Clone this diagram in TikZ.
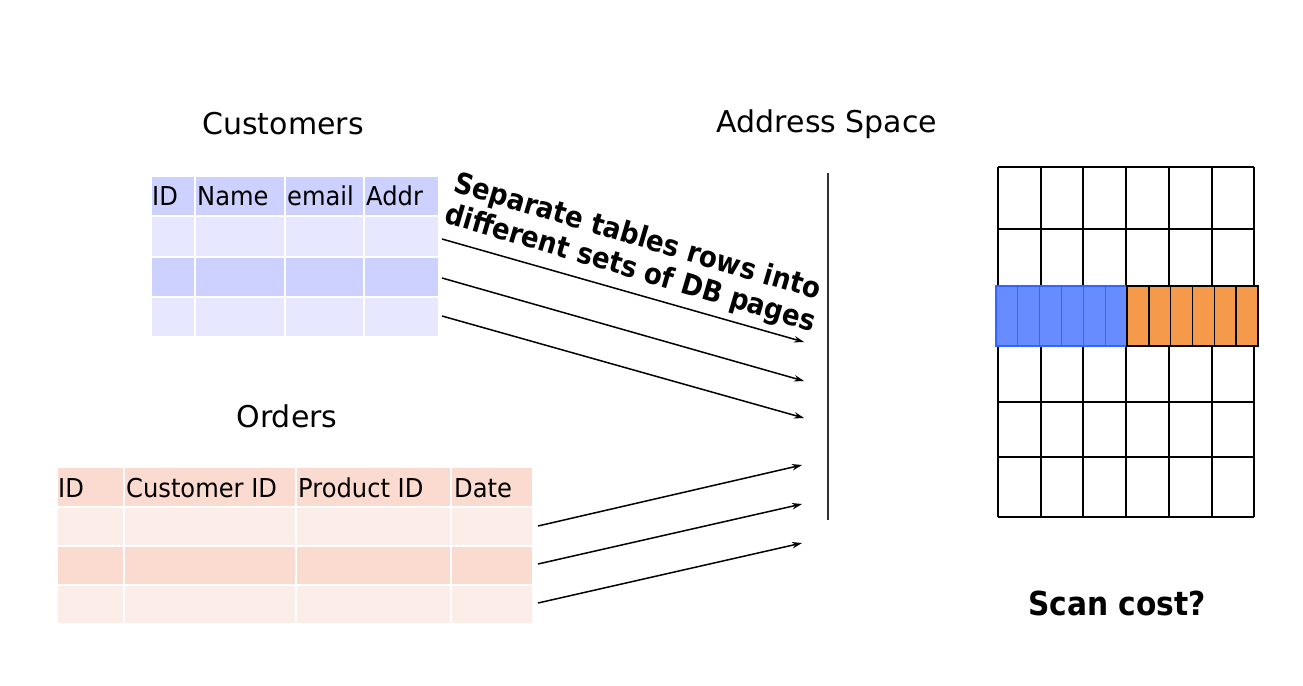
\documentclass[tikz,border=0pt]{standalone}
\usepackage{fontspec}
\setmainfont{DejaVu Sans}
\newfontfamily\hdrfont[FakeStretch=0.93]{DejaVu Sans}
\newfontfamily\nbold[FakeStretch=0.9]{DejaVu Sans}
\usetikzlibrary{arrows.meta}
\definecolor{custA}{RGB}{204,209,255}
\definecolor{custB}{RGB}{231,232,255}
\definecolor{ordA}{RGB}{251,219,208}
\definecolor{ordB}{RGB}{252,237,232}
\definecolor{pgblue}{RGB}{102,140,255}
\definecolor{pgblueline}{RGB}{50,100,255}
\definecolor{pgorange}{RGB}{245,154,74}
\definecolor{vline}{RGB}{50,50,50}
\begin{document}
\begin{tikzpicture}[x=1pt,y=-1pt,
  cell/.style={draw=white,line width=1.5},
  hdr/.style={anchor=west,inner sep=0pt,font=\hdrfont\fontsize{26}{30}\selectfont},
  title/.style={inner sep=0pt,font=\fontsize{30}{36}\selectfont},
  maparrow/.style={line width=1.5,-{Stealth[length=10pt,width=6.5pt]}},
  gridline/.style={line width=1.5},
  bluepg/.style={fill=pgblue,draw=pgblueline,line width=1.3},
  orangepg/.style={fill=pgorange,draw=black,line width=1.5}]
\useasboundingbox (0,0) rectangle (1303,685);

% Customers table
\foreach \ya/\yb/\c in {176/216/custA,216/257/custB,257/297/custA,297/337/custB}
  \foreach \xa/\xb in {151/195,195/285,285/364,364/439}
    \path[cell,fill=\c] (\xa,\ya) rectangle (\xb,\yb);
\node[title] (custtitle) at (283,124) {Customers};
\node[hdr] (cid) at (152,196) {ID};
\node[hdr] (cname) at (197,196) {Name};
\node[hdr] (cemail) at (287,196) {email};
\node[hdr] (caddr) at (366,196) {Addr};

% Orders table
\foreach \ya/\yb/\c in {467/507/ordA,507/546/ordB,546/585/ordA,585/624/ordB}
  \foreach \xa/\xb in {57/124,124/296,296/451,451/533}
    \path[cell,fill=\c] (\xa,\ya) rectangle (\xb,\yb);
\node[title] (ordtitle) at (287,416) {Orders};
\node[hdr] (oid) at (58,488) {ID};
\node[hdr] (ocust) at (126,488) {Customer ID};
\node[hdr] (oprod) at (298,488) {Product ID};
\node[hdr] (odate) at (454,488) {Date};

% Address space
\node[title] (astitle) at (827,124) {Address Space};
\coordinate (astop) at (828,173);
\coordinate (asbot) at (828,520);
\draw[vline,line width=2.5] (astop) -- (asbot);

% arrows
\coordinate (c1s) at (442,239); \coordinate (c1e) at (804,342);
\coordinate (c2s) at (442,278); \coordinate (c2e) at (804,381);
\coordinate (c3s) at (442,316); \coordinate (c3e) at (804,418);
\coordinate (o1s) at (538,526); \coordinate (o1e) at (802,465);
\coordinate (o2s) at (538,564); \coordinate (o2e) at (802,504);
\coordinate (o3s) at (538,603); \coordinate (o3e) at (802,543);
\foreach \s/\e in {c1s/c1e,c2s/c2e,c3s/c3e,o1s/o1e,o2s/o2e,o3s/o3e}
  \draw[maparrow] (\s) -- (\e);

\node[rotate=-16.5,align=left,inner sep=0pt,font=\nbold\bfseries\fontsize{29}{32}\selectfont] (note) at (635,254)
  {Separate tables rows into\\different sets of DB pages};

% page grid
\foreach \x in {998,1041,1083,1126,1169,1212,1254}
  \draw[gridline] (\x,167) -- (\x,517);
\foreach \y in {167,229,286,346,402,457,517}
  \draw[gridline] (998,\y) -- (1254,\y);
\foreach \i in {0,...,5}
  \path[bluepg] ({996+\i*21.83},286) rectangle ({996+(\i+1)*21.83},346);
\foreach \i in {0,...,5}
  \path[orangepg] ({1127+\i*21.83},286) rectangle ({1127+(\i+1)*21.83},346);

\node[inner sep=0pt,font=\nbold\bfseries\fontsize{33}{38}\selectfont] (scan) at (1117,603) {Scan cost?};
\end{tikzpicture}
\end{document}
